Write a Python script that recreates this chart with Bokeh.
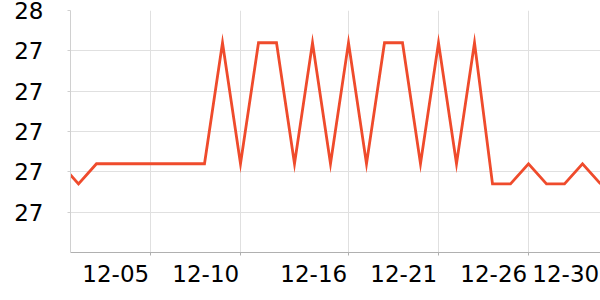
from bokeh.plotting import figure
from bokeh.models import FixedTicker, Range1d
from bokeh.embed import file_html
from bokeh.resources import INLINE

# ---- data ----
dates = ["11-30", "12-01", "12-02", "12-03", "12-04", "12-05", "12-06", "12-07",
         "12-08", "12-09", "12-10", "12-11", "12-12", "12-13", "12-14", "12-15",
         "12-16", "12-17", "12-18", "12-19", "12-20", "12-21", "12-22", "12-23",
         "12-24", "12-25", "12-26", "12-27", "12-28", "12-29", "12-30"]
values = [27.62, 27.57, 27.62, 27.62, 27.62, 27.62, 27.62, 27.62,
          27.62, 27.92, 27.62, 27.92, 27.92, 27.62, 27.92, 27.62,
          27.92, 27.62, 27.92, 27.92, 27.62, 27.92, 27.62, 27.92,
          27.57, 27.57, 27.62, 27.57, 27.57, 27.62, 27.57]
x_tick_labels = ["12-05", "12-10", "12-16", "12-21", "12-26", "12-30"]
y_ticks = [27.5, 27.6, 27.7, 27.8, 27.9, 28.0]
y_tick_labels = ["27", "27", "27", "27", "27", "28"]

xs = list(range(len(dates)))
tick_pos = [dates.index(d) for d in x_tick_labels]

p = figure(width=600, height=300, output_backend="svg", toolbar_location=None,
           x_range=Range1d(10 / 18, len(dates) - 1), y_range=Range1d(27.4, 28.0),
           min_border_left=70, min_border_right=0, min_border_top=10,
           min_border_bottom=48)
p.outline_line_color = None
p.background_fill_color = "white"
p.border_fill_color = "white"

p.line(xs, values, line_color="#ef4b2c", line_width=2.8, line_join="miter")

# x axis: labels right-aligned to the tick (shift label centres left)
label_shift = 1.93
p.xaxis.ticker = FixedTicker(ticks=[t - label_shift for t in tick_pos], minor_ticks=tick_pos)
p.xaxis.major_label_overrides = {t - label_shift: lbl for t, lbl in zip(tick_pos, x_tick_labels)}
p.xaxis.major_tick_line_color = None
p.xaxis.minor_tick_line_color = "#b0b0b0"
p.xaxis.minor_tick_out = 3
p.xaxis.minor_tick_in = 0
p.xaxis.axis_line_color = "#b0b0b0"
p.xaxis.major_label_standoff = 6
p.xaxis.major_label_text_font = "DejaVu Sans"
p.xaxis.major_label_text_font_size = "23px"
p.xaxis.major_label_text_color = "black"
p.xgrid.ticker = FixedTicker(ticks=tick_pos)
p.xgrid.grid_line_color = "#e0e0e0"

p.yaxis.ticker = FixedTicker(ticks=y_ticks)
p.yaxis.major_label_overrides = {t: lbl for t, lbl in zip(y_ticks, y_tick_labels)}
p.yaxis.major_tick_line_color = "#d0d0d0"
p.yaxis.major_tick_out = 3
p.yaxis.major_tick_in = 0
p.yaxis.minor_tick_line_color = None
p.yaxis.axis_line_color = "#d0d0d0"
p.yaxis.major_label_standoff = 24
p.yaxis.major_label_text_font = "DejaVu Sans"
p.yaxis.major_label_text_font_size = "23px"
p.yaxis.major_label_text_color = "black"
p.ygrid.grid_line_color = "#e0e0e0"

open("out.html", "w").write(file_html(p, INLINE))
